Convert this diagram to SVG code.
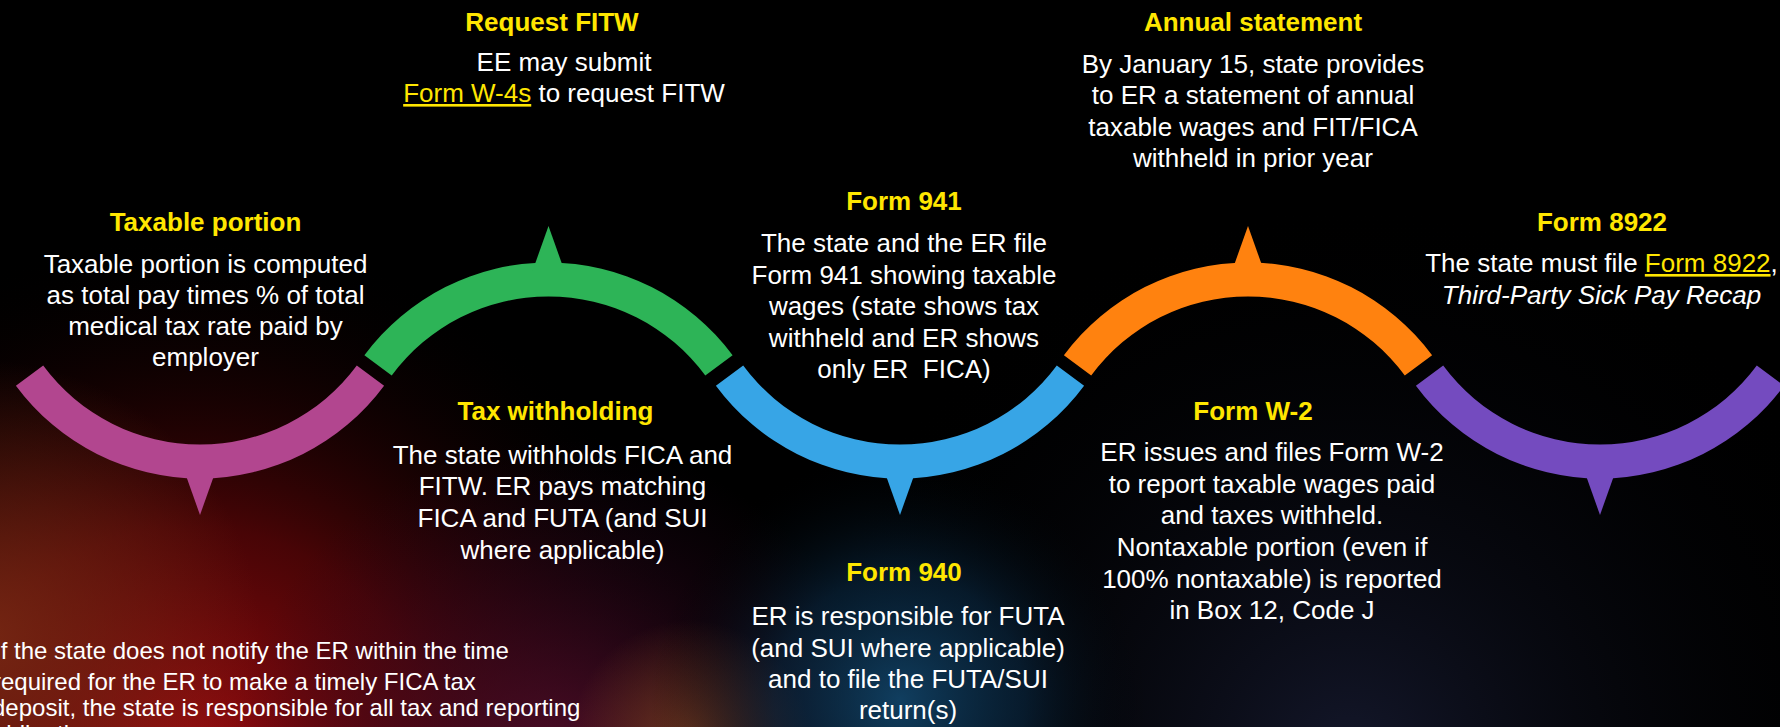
<svg xmlns="http://www.w3.org/2000/svg" width="1780" height="727" viewBox="0 0 1780 727">
  <defs>
    <radialGradient id="glowRed" gradientUnits="userSpaceOnUse" cx="190" cy="770" r="540">
      <stop offset="0" stop-color="#a00c10" stop-opacity="1"/>
      <stop offset="0.45" stop-color="#600608" stop-opacity="0.75"/>
      <stop offset="1" stop-color="#000000" stop-opacity="0"/>
    </radialGradient>
    <radialGradient id="glowRust" gradientUnits="userSpaceOnUse" cx="-20" cy="640" r="280">
      <stop offset="0" stop-color="#7a2a14" stop-opacity="0.9"/>
      <stop offset="1" stop-color="#7a2a14" stop-opacity="0"/>
    </radialGradient>
    <radialGradient id="glowPlum" gradientUnits="userSpaceOnUse" cx="560" cy="770" r="330">
      <stop offset="0" stop-color="#5a1030" stop-opacity="0.85"/>
      <stop offset="1" stop-color="#2a0520" stop-opacity="0"/>
    </radialGradient>
    <radialGradient id="glowAmber" gradientUnits="userSpaceOnUse" cx="690" cy="740" r="120">
      <stop offset="0" stop-color="#8a4a22" stop-opacity="0.7"/>
      <stop offset="1" stop-color="#8a4a22" stop-opacity="0"/>
    </radialGradient>
    <radialGradient id="glowBlue" gradientUnits="userSpaceOnUse" cx="900" cy="700" r="250">
      <stop offset="0" stop-color="#12456a" stop-opacity="0.9"/>
      <stop offset="0.5" stop-color="#0a2a45" stop-opacity="0.6"/>
      <stop offset="1" stop-color="#000000" stop-opacity="0"/>
    </radialGradient>
    <radialGradient id="glowNavy" gradientUnits="userSpaceOnUse" cx="1350" cy="760" r="560">
      <stop offset="0" stop-color="#161a30" stop-opacity="0.9"/>
      <stop offset="1" stop-color="#000000" stop-opacity="0"/>
    </radialGradient>
  </defs>
  <style>
    text { font-family: "Liberation Sans", Arial, sans-serif; font-size: 26px; text-anchor: middle; }
    .title { font-weight: bold; fill: #FFE600; }
    .body { fill: #FFFFFF; }
    .link { fill: #FFE600; text-decoration: underline; }
    .note { font-size: 24px; text-anchor: start; fill: #FFFFFF; }
    .magenta { fill: #B2468F; }
    .green { fill: #2DB457; }
    .blue { fill: #37A5E6; }
    .orange { fill: #FF820F; }
    .purple { fill: #744BBF; }
  </style>

  <!-- backdrop -->
  <rect width="1780" height="727" fill="#000000"/>
  <rect width="1780" height="727" fill="url(#glowNavy)"/>
  <rect width="1780" height="727" fill="url(#glowRed)"/>
  <rect width="1780" height="727" fill="url(#glowRust)"/>
  <rect width="1780" height="727" fill="url(#glowPlum)"/>
  <rect width="1780" height="727" fill="url(#glowAmber)"/>
  <rect width="1780" height="727" fill="url(#glowBlue)"/>

  <!-- wave of arc segments with pointers -->
  <g id="connectors">
    <g id="arc-taxable" class="magenta">
      <path d="M 15.9 385.7 A 229 229 0 0 0 384.1 385.7 L 356.8 365.5 A 195 195 0 0 1 43.2 365.5 Z"/>
      <polygon points="184,470 216,470 200,515"/>
    </g>
    <g id="arc-request" class="green">
      <path d="M 364.4 355.3 A 229 229 0 0 1 732.6 355.3 L 705.3 375.5 A 195 195 0 0 0 391.7 375.5 Z"/>
      <polygon points="532.5,271 564.5,271 548.5,226"/>
    </g>
    <g id="arc-941" class="blue">
      <path d="M 715.9 385.7 A 229 229 0 0 0 1084.1 385.7 L 1056.8 365.5 A 195 195 0 0 1 743.2 365.5 Z"/>
      <polygon points="884,470 916,470 900,515"/>
    </g>
    <g id="arc-annual" class="orange">
      <path d="M 1063.9 355.3 A 229 229 0 0 1 1432.1 355.3 L 1404.8 375.5 A 195 195 0 0 0 1091.2 375.5 Z"/>
      <polygon points="1232,271 1264,271 1248,226"/>
    </g>
    <g id="arc-8922" class="purple">
      <path d="M 1415.9 385.7 A 229 229 0 0 0 1784.1 385.7 L 1756.8 365.5 A 195 195 0 0 1 1443.2 365.5 Z"/>
      <polygon points="1584,470 1616,470 1600,515"/>
    </g>
  </g>

  <!-- step: taxable portion -->
  <g id="taxable-portion">
    <text class="title" x="205.5" y="231">Taxable portion</text>
    <text class="body" x="205.5" y="273">Taxable portion is computed</text>
    <text class="body" x="205.5" y="304">as total pay times % of total</text>
    <text class="body" x="205.5" y="335">medical tax rate paid by</text>
    <text class="body" x="205.5" y="366">employer</text>
  </g>

  <!-- step: request FITW -->
  <g id="request-fitw">
    <text class="title" x="552" y="31">Request FITW</text>
    <text class="body" x="564" y="71">EE may submit</text>
    <text class="body" x="564" y="102"><tspan class="link">Form W-4s</tspan> to request FITW</text>
  </g>

  <!-- step: tax withholding -->
  <g id="tax-withholding">
    <text class="title" x="555.5" y="419.5">Tax withholding</text>
    <text class="body" x="562.5" y="463.5">The state withholds FICA and</text>
    <text class="body" x="562.5" y="495">FITW. ER pays matching</text>
    <text class="body" x="562.5" y="527">FICA and FUTA (and SUI</text>
    <text class="body" x="562.5" y="558.5">where applicable)</text>
  </g>

  <!-- step: form 941 -->
  <g id="form-941">
    <text class="title" x="904" y="210">Form 941</text>
    <text class="body" x="904" y="252">The state and the ER file</text>
    <text class="body" x="904" y="283.5">Form 941 showing taxable</text>
    <text class="body" x="904" y="315">wages (state shows tax</text>
    <text class="body" x="904" y="346.7">withheld and ER shows</text>
    <text class="body" x="904" y="378.3" xml:space="preserve">only ER  FICA)</text>
  </g>

  <!-- step: form 940 -->
  <g id="form-940">
    <text class="title" x="904" y="581">Form 940</text>
    <text class="body" x="908" y="625">ER is responsible for FUTA</text>
    <text class="body" x="908" y="656.5">(and SUI where applicable)</text>
    <text class="body" x="908" y="687.5">and to file the FUTA/SUI</text>
    <text class="body" x="908" y="718.5">return(s)</text>
  </g>

  <!-- step: annual statement -->
  <g id="annual-statement">
    <text class="title" x="1253" y="31">Annual statement</text>
    <text class="body" x="1253" y="72.7">By January 15, state provides</text>
    <text class="body" x="1253" y="104">to ER a statement of annual</text>
    <text class="body" x="1253" y="136">taxable wages and FIT/FICA</text>
    <text class="body" x="1253" y="167">withheld in prior year</text>
  </g>

  <!-- step: form W-2 -->
  <g id="form-w2">
    <text class="title" x="1253" y="419.5">Form W-2</text>
    <text class="body" x="1272" y="461">ER issues and files Form W-2</text>
    <text class="body" x="1272" y="493">to report taxable wages paid</text>
    <text class="body" x="1272" y="524">and taxes withheld.</text>
    <text class="body" x="1272" y="556">Nontaxable portion (even if</text>
    <text class="body" x="1272" y="587.5">100% nontaxable) is reported</text>
    <text class="body" x="1272" y="619">in Box 12, Code J</text>
  </g>

  <!-- step: form 8922 -->
  <g id="form-8922">
    <text class="title" x="1602" y="231">Form 8922</text>
    <text class="body" x="1601.5" y="272">The state must file <tspan class="link">Form 8922</tspan>,</text>
    <text class="body" x="1601.5" y="304" font-style="italic">Third-Party Sick Pay Recap</text>
  </g>

  <!-- footnote, running off the left and bottom edges -->
  <g id="late-notice">
    <text class="note" x="-6" y="659">If the state does not notify the ER within the time</text>
    <text class="note" x="-7" y="690">required for the ER to make a timely FICA tax</text>
    <text class="note" x="-8" y="716">deposit, the state is responsible for all tax and reporting</text>
    <text class="note" x="-7" y="742">obligations.</text>
  </g>
</svg>
